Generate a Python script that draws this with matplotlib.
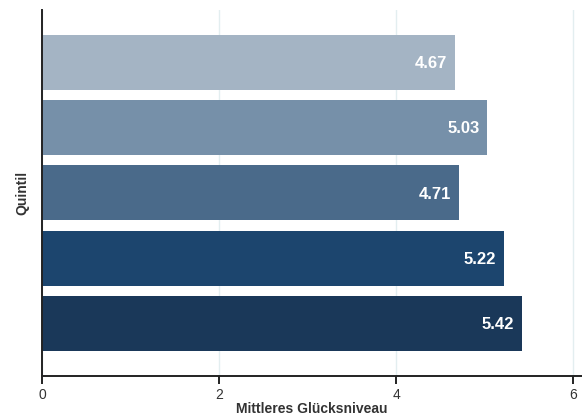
import matplotlib
matplotlib.use("Agg")
import matplotlib.pyplot as plt

plt.rcParams['font.family'] = ['Liberation Sans', 'DejaVu Sans']

quintiles = ["Q1", "Q2", "Q3", "Q4", "Q5"]
happiness = [4.67, 5.03, 4.71, 5.22, 5.42]
colors = ["#a4b4c4", "#7690a9", "#4a6a8a", "#1c456e", "#1a3859"]
x_ticks = [0, 2, 4, 6]

fig = plt.figure(figsize=(5.82, 4.16), dpi=100)
ax = fig.add_axes([0.0722, 0.0962, 0.9278, 0.880])

pos = list(range(len(quintiles)))
ax.barh(pos, happiness, height=0.84, color=colors, zorder=2)
for p, v in zip(pos, happiness):
    ax.text(v - 0.09, p + 0.02, f"{v:.2f}", ha="right", va="center",
            color="white", fontsize=12, fontweight="bold", zorder=3)

ax.set_ylim(4.8, -0.8)
ax.set_xlim(0, 6.1)
ax.set_yticks([])
ax.set_xticks(x_ticks)
ax.set_xticklabels([str(t) for t in x_ticks])
ax.tick_params(axis="x", length=6, width=1.4, color="#222222",
               labelsize=10, labelcolor="#333333", pad=2.5)
ax.grid(axis="x", color="#e3eef0", linewidth=1, zorder=0)

for side in ["top", "right"]:
    ax.spines[side].set_visible(False)
for side in ["left", "bottom"]:
    ax.spines[side].set_color("#222222")
    ax.spines[side].set_linewidth(1.4)

ax.set_xlabel("Mittleres Glücksniveau", fontsize=10, fontweight="bold",
              color="#333333", labelpad=0.5)
ax.set_ylabel("Quintil", fontsize=10, fontweight="bold",
              color="#333333", labelpad=9)

fig.savefig("out.png", dpi=100)
